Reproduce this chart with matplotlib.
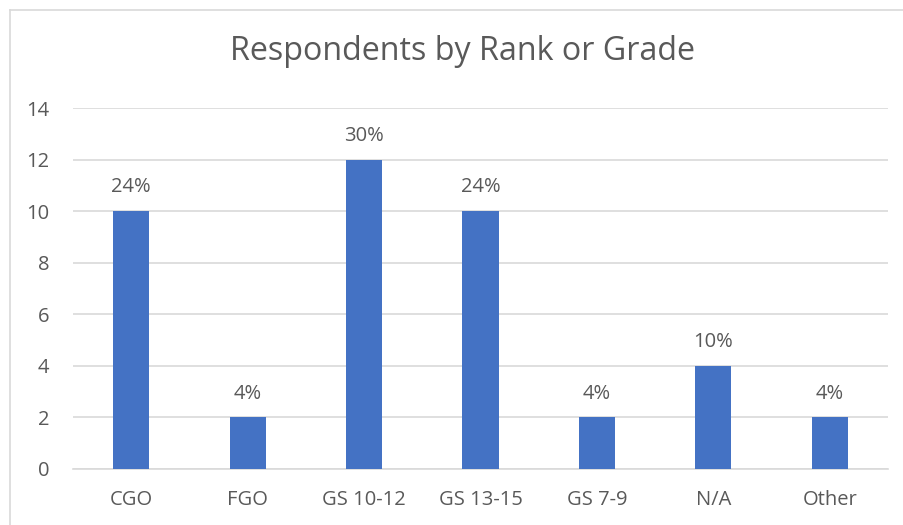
import matplotlib as mpl
import matplotlib.pyplot as plt
from matplotlib.lines import Line2D

categories = ["CGO", "FGO", "GS 10-12", "GS 13-15", "GS 7-9", "N/A", "Other"]
counts = [10, 2, 12, 10, 2, 4, 2]
pct_labels = ["24%", "4%", "30%", "24%", "4%", "10%", "4%"]
y_ticks = [0, 2, 4, 6, 8, 10, 12, 14]

TEXT = "#595959"
GRID = "#d9d9d9"
BAR = "#4472c4"

mpl.rcParams.update({"font.family": ["Open Sans", "DejaVu Sans"]})

W, H = 904, 525
fig = plt.figure(figsize=(W / 100, H / 100), dpi=100)
ax = fig.add_axes([73 / W, 1 - 469 / H, (888 - 73) / W, (469 - 108) / H])

x = range(len(categories))
ax.bar(x, counts, width=0.31, color=BAR, zorder=3)
ax.set_xlim(-0.5, len(categories) - 0.5)
ax.set_ylim(0, 14)
ax.set_yticks(y_ticks)
ax.set_xticks(list(x))
ax.set_xticklabels(categories)
ax.tick_params(axis="both", length=0, labelsize=14.5, colors=TEXT)
ax.tick_params(axis="x", pad=15)
ax.tick_params(axis="y", pad=17)
ax.grid(axis="y", color=GRID, linewidth=1.2, zorder=0)
for s in ["top", "right", "left"]:
    ax.spines[s].set_visible(False)
ax.spines["bottom"].set_color(GRID)
ax.spines["bottom"].set_linewidth(1.2)

for xi, v, lab in zip(x, counts, pct_labels):
    ax.annotate(lab, xy=(xi, v), xytext=(0, 10), textcoords="offset points",
                ha="center", va="bottom", fontsize=14.5, color=TEXT)

fig.text(463 / W, 1 - 52 / H, "Respondents by Rank or Grade", ha="center",
         va="center", fontsize=23.2, color=TEXT)

# chart area border (left and top edges visible)
fig.add_artist(Line2D([9.5 / W, 9.5 / W], [0, 1 - 10 / H], transform=fig.transFigure,
                      color=GRID, linewidth=1.2))
fig.add_artist(Line2D([9.5 / W, 1], [1 - 10 / H, 1 - 10 / H], transform=fig.transFigure,
                      color=GRID, linewidth=1.2))

fig.savefig("out.png", dpi=100, facecolor="white")
